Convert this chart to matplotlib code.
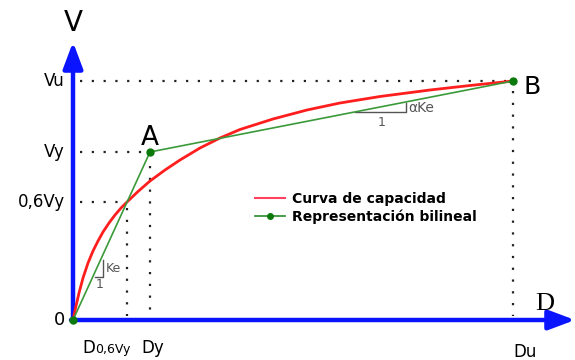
import matplotlib
matplotlib.use("Agg")
import matplotlib.pyplot as plt
from matplotlib.lines import Line2D

# curva de capacidad (desplazamiento, cortante) en unidades arbitrarias
desp = [0, 3, 6, 10, 15, 20, 25, 30, 36, 42, 48, 54, 65, 77, 92, 107,
        127, 147, 167, 200, 234, 267, 307, 357, 397, 440]
cortante = [0, 14, 27, 42, 57, 69, 79, 88, 97, 105, 112, 118, 128.5, 139, 150, 160,
            172, 182, 190.5, 201, 210, 217, 223.5, 230, 234.5, 239]

# puntos notables de la representacion bilineal
Dy, Vy = 77, 168
Du, Vu = 440, 239
D06, V06 = 54, 118

bil_x = [0, Dy, Du]
bil_y = [0, Vy, Vu]

fig = plt.figure(figsize=(5.75, 3.6), dpi=100)
ax = fig.add_axes([0, 0, 1, 1])
ax.set_xlim(-73, 502)
ax.set_ylim(-40, 320)
ax.axis("off")

# lineas de referencia punteadas
dot = dict(color="#222222", lw=1.6, linestyle=(0, (1, 4.3)), zorder=1)
ax.plot([7, Du], [Vu, Vu], **dot)
ax.plot([7, Dy], [Vy, Vy], **dot)
ax.plot([7, D06], [V06, V06], **dot)
ax.plot([Dy, Dy], [Vy - 14, 4], **dot)
ax.plot([D06, D06], [V06 - 6, 4], **dot)
ax.plot([Du, Du], [Vu - 10, 4], **dot)

# ejes con flecha
arrow = dict(arrowstyle="-|>,head_length=0.8,head_width=0.3", lw=3.2,
             color="#0a14ff", mutation_scale=20, shrinkA=0, shrinkB=0)
ax.annotate("", xy=(0, 278), xytext=(0, -2), arrowprops=arrow, zorder=2)
ax.annotate("", xy=(502, 0), xytext=(-2, 0), arrowprops=arrow, zorder=2)

ax.plot(desp, cortante, color="#ff1e1e", lw=2, zorder=3)
ax.plot(bil_x, bil_y, color="#3a9a3a", lw=1.2, marker="o", ms=5,
        mfc="#0b7a0b", mec="#0b7a0b", zorder=4)

# triangulos de pendiente
tri = dict(color="#555555", lw=1, zorder=3)
ax.plot([22, 30, 30], [43, 43, 60], **tri)
ax.text(33, 52, "Ke", fontsize=9, color="#555555", va="center")
ax.text(27, 35, "1", fontsize=9, color="#555555", ha="center", va="center")
ax.plot([282, 333, 333], [208, 208, 217], **tri)
ax.text(335, 212, "αKe", fontsize=10, color="#555555", va="center")
ax.text(309, 197, "1", fontsize=9, color="#555555", ha="center", va="center")

# etiquetas de los ejes
ax.text(0, 297, "V", fontsize=20, ha="center", va="center")
ax.text(472, 16, "D", fontsize=19, family="Liberation Serif", ha="center", va="center")
ax.text(Dy, 182, "A", fontsize=19, ha="center", va="center")
ax.text(Du + 10, 233, "B", fontsize=18, ha="left", va="center")

for lab, v in [("Vu", Vu), ("Vy", Vy), ("0,6Vy", V06)]:
    ax.text(-8, v, lab, fontsize=12, ha="right", va="center")
ax.text(-8, 0, "0", fontsize=13, ha="right", va="center")

ax.text(9, -33, "D", fontsize=12, va="baseline")
ax.text(22, -33, "0,6Vy", fontsize=9, va="baseline")
ax.text(Dy + 3, -33, "Dy", fontsize=12, ha="center", va="baseline")
ax.text(Du + 12, -37, "Du", fontsize=12, ha="center", va="baseline")

handles = [Line2D([], [], color="#ff4060", lw=1.5),
           Line2D([], [], color="#2a8a2a", lw=1.2, marker="o", ms=4,
                  mfc="#0b7a0b", mec="#0b7a0b")]
ax.legend(handles, ["Curva de capacidad", "Representación bilineal"],
          loc="upper left", bbox_to_anchor=(242 / 575, 1 - 179 / 360),
          frameon=False, handlelength=2.2, handletextpad=0.5,
          labelspacing=0.3, borderpad=0.4, prop=dict(weight="bold", size=10))

fig.savefig("out.png", dpi=100)
